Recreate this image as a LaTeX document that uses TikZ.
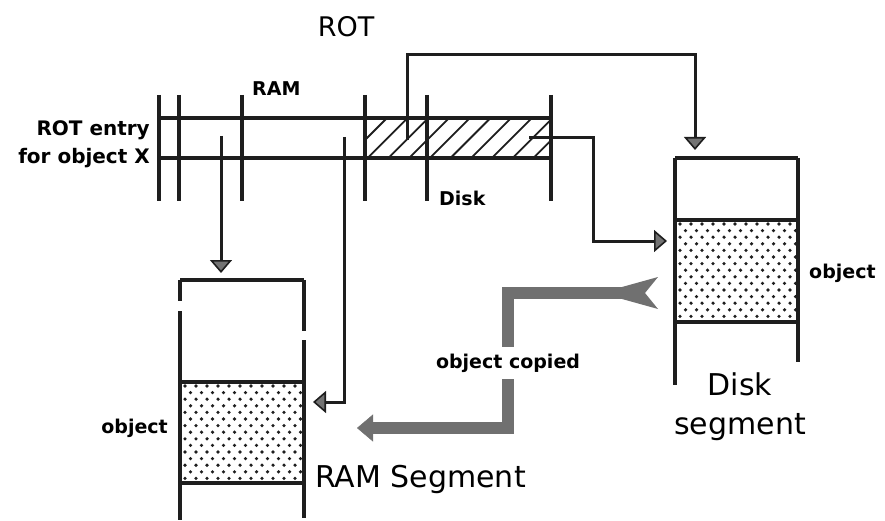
\documentclass[tikz,border=0pt]{standalone}
\usepackage{fontspec}
\setmainfont{DejaVu Sans}
\usetikzlibrary{arrows.meta, positioning, calc}
\definecolor{inkgray}{RGB}{30,30,30}
\definecolor{copygray}{RGB}{112,112,112}
\tikzset{
  bar/.style={line width=4.2pt, draw=inkgray},
  rail/.style={line width=3.2pt, draw=inkgray},
  wall/.style={line width=3.6pt, draw=inkgray},
  hatch/.style={line width=1.8pt, draw=inkgray},
  ptr/.style={line width=3pt, draw=inkgray,
    -{Triangle[width=22pt,length=13pt,fill=black!55,line width=1.6pt]}},
  copyarrow/.style={line width=12pt, draw=copygray,
    -{Triangle[width=27pt,length=16pt,line width=0.5pt]}},
  smalllabel/.style={font=\fontsize{19}{23}\selectfont\bfseries, inner sep=1pt},
  biglabel/.style={font=\fontsize{30}{39}\selectfont, inner sep=1pt, align=center}
}
% staggered dot fill for an object area
\newcommand{\dotgrid}[4]{%
  \begin{scope}
    \clip (#1,#2) rectangle (#3,#4);
    \foreach \r in {0,...,15} {
      \pgfmathsetmacro{\yy}{#2+4+6.6*\r}
      \pgfmathsetmacro{\xo}{#1+4+5.5*mod(\r,2)}
      \foreach \c in {0,...,12}
        \fill[inkgray] (\xo+11*\c,\yy) circle (1.8pt);
    }
  \end{scope}}

\begin{document}
\begin{tikzpicture}[x=1pt, y=-1pt]
  \useasboundingbox (0,0) rectangle (885,521);

  % ROT entry: hatched disk part
  \begin{scope}
    \clip (365,118) rectangle (551,158);
    \foreach \k in {0,...,10}
      \draw[hatch] ({347+20.7*\k},158) -- ++(40,-40);
  \end{scope}

  % ROT entry rails and field bars
  \draw[rail] (159,118) -- (551,118);
  \draw[rail] (159,158) -- (551,158);
  \foreach \x in {159,179,242,365,427,551}
    \draw[bar] (\x,95) -- (\x,201);

  % labels of the ROT entry
  \node[biglabel, font=\fontsize{27}{30}\selectfont] (rottitle) at (346,27) {ROT};
  \node[smalllabel, anchor=base west] (ramfield) at (251,96) {RAM};
  \node[smalllabel, anchor=base west] (diskfield) at (438,206) {Disk};
  \node[smalllabel, font=\fontsize{20}{28}\selectfont\bfseries, align=right,
    anchor=east] (entry) at (151,144) {ROT entry\\for object X};

  % RAM segment
  \coordinate (ramTL) at (180,280);
  \coordinate (ramTR) at (304,280);
  \draw[wall] (ramTL) -- (ramTR);
  \draw[wall] (ramTL) -- (180,301);
  \draw[wall] (180,311) -- (180,520);
  \draw[wall] (ramTR) -- (304,331);
  \draw[wall] (304,340) -- (304,518);
  \dotgrid{181}{382}{303}{483}
  \draw[wall] (180,382) -- (304,382);
  \draw[wall] (180,483) -- (304,483);
  \node[smalllabel, anchor=east] (ramobj) at (169,428) {object};
  \node[biglabel, anchor=base west] (ramname) at (314,487) {RAM Segment};

  % Disk segment
  \coordinate (diskTL) at (675,158);
  \coordinate (diskTR) at (798,158);
  \draw[wall] (diskTL) -- (diskTR);
  \draw[wall] (diskTL) -- (675,385);
  \draw[wall] (diskTR) -- (798,362);
  \dotgrid{676}{220}{797}{322}
  \draw[wall] (675,220) -- (798,220);
  \draw[wall] (675,322) -- (798,322);
  \node[smalllabel, anchor=west] (diskobj) at (808,273) {object};
  \node[biglabel] (diskname) at (740,407) {Disk\\segment};

  % pointers out of the ROT entry
  \coordinate (ramstart) at (221,136);
  \coordinate (ramin) at (221,273);
  \coordinate (objstart) at (344,137);
  \coordinate (objin) at (313,402);
  \coordinate (segstart) at (407,140);
  \coordinate (segin) at (695,150);
  \coordinate (offstart) at (529,138);
  \coordinate (offin) at (667,241);
  \draw[ptr] (ramstart) -- (ramin);
  \draw[ptr] (objstart) |- (objin);
  \draw[ptr] (segstart) -- (407,55) -| (segin);
  \draw[ptr] (offstart) -- (593,138) |- (offin);

  % object copied from disk to RAM
  \coordinate (copystart) at (630,293);
  \coordinate (copyend) at (357,428);
  \draw[copyarrow] (copystart) -- (508,293) -- (508,428) -- (copyend);
  \fill[copygray] (622,287) -- (658,277) -- (645,293) -- (658,309) -- (622,299) -- cycle;
  \node[smalllabel, fill=white, inner ysep=7pt] (copied) at (508,363) {object copied};
\end{tikzpicture}
\end{document}
